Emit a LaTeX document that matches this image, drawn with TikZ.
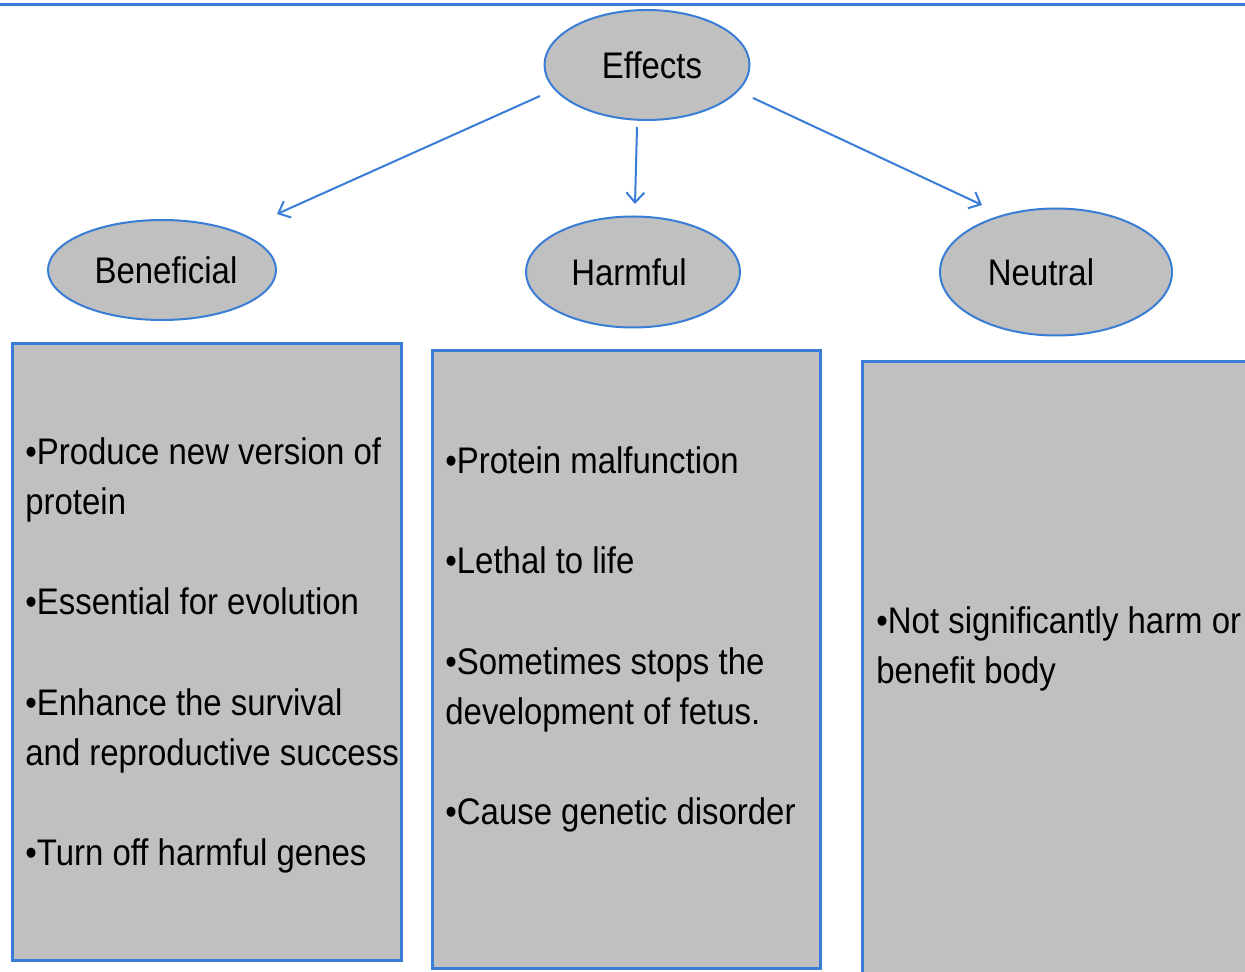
\documentclass[tikz,border=0pt]{standalone}
\usepackage{fontspec}
\setmainfont[FakeStretch=0.89]{Liberation Sans}
\usetikzlibrary{shapes.geometric,arrows.meta,calc}
\definecolor{bord}{RGB}{58,125,214}
\definecolor{fillg}{RGB}{192,192,192}
\tikzset{
 ell/.style={ellipse, draw=bord, line width=1pt, fill=fillg, inner sep=0pt, font=\fontsize{18.5}{22}\selectfont},
 card/.style={draw=bord, line width=1.5pt, fill=fillg, inner sep=0pt},
 arr/.style={draw=bord, line width=1pt, -{Straight Barb[length=5pt,width=9pt]}},
 txt/.style={anchor=north west, inner sep=0pt, align=left, font=\fontsize{18.5}{25.1}\selectfont}
}
\begin{document}
\begin{tikzpicture}[x=0.5pt,y=-0.5pt]
\clip (0,0) rectangle (1245,972);
\fill[white] (0,0) rectangle (1245,972);
\draw[bord, line width=1.5pt] (0,5) -- (1245,5);
\node[ell, minimum width=102.5pt, minimum height=55pt] (eff) at (647,65) {\kern5pt Effects};
\node[ell, minimum width=114pt, minimum height=50pt] (ben) at (162,270) {\kern4pt Beneficial};
\node[ell, minimum width=107pt, minimum height=55.5pt] (harm) at (633,272) {Harmful\kern4pt};
\node[ell, minimum width=116pt, minimum height=63.5pt] (neu) at (1056,272) {Neutral\kern15pt};
\node[card, minimum width=194.5pt, minimum height=308pt] (b1) at (206.5,652) {};
\node[card, minimum width=194pt, minimum height=308.5pt] (b2) at (626,659.5) {};
\node[card, minimum width=199pt, minimum height=314pt] (b3) at (1061,676) {};
\node[txt] (t1) at (25,437) {\textbullet Produce new version of\\protein\\[25.1pt]\textbullet Essential for evolution\\[25.1pt]\textbullet Enhance the survival\\and reproductive success\\[25.1pt]\textbullet Turn off harmful genes};
\node[txt] (t2) at (445,446) {\textbullet Protein malfunction\\[25.1pt]\textbullet Lethal to life\\[25.1pt]\textbullet Sometimes stops the\\development of fetus.\\[25.1pt]\textbullet Cause genetic disorder};
\node[txt] (t3) at (876,606) {\textbullet Not significantly harm or\\benefit body};
\draw[arr] ($(eff.center)+(-107,31)$) -- ($(ben.center)+(115,-56)$);
\draw[arr] ($(eff.center)+(-10,62)$) -- ($(harm.center)+(2,-68)$);
\draw[arr] ($(eff.center)+(106,33)$) -- ($(neu.center)+(-74,-67)$);
\end{tikzpicture}
\end{document}
